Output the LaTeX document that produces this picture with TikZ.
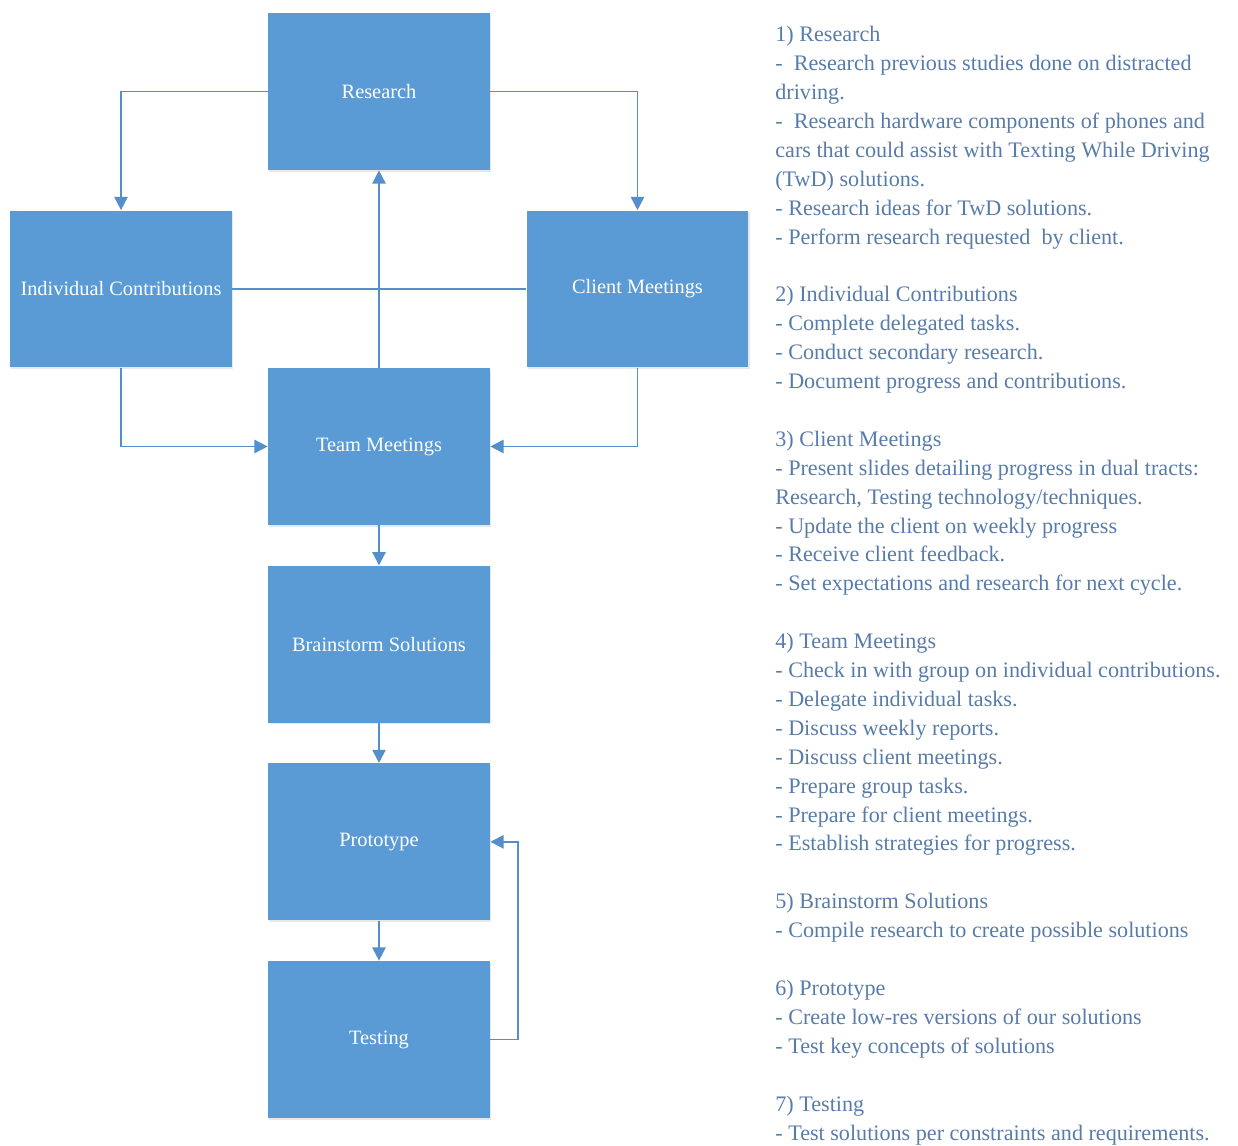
\documentclass[tikz,border=0pt]{standalone}
\usepackage{fontspec}
\setmainfont{Liberation Serif}
\usepackage{xcolor}
\usepackage{tikz}
\usetikzlibrary{arrows.meta,positioning,shadows}
\definecolor{stepblue}{RGB}{91,155,213}
\definecolor{linkblue}{RGB}{84,142,203}
\definecolor{noteblue}{RGB}{88,124,170}
\tikzset{
  phase/.style={rectangle, fill=stepblue, draw=none, minimum width=4.44cm, minimum height=3.14cm, align=center, text=white, font=\fontsize{11.6}{14}\selectfont, drop shadow={shadow xshift=0.7pt, shadow yshift=-0.9pt, opacity=0.18}},
  link/.style={draw=linkblue, line width=1pt},
  arrow/.style={link, -{Triangle[width=7.5pt,length=7.5pt]}},
  notes/.style={align=left, text=noteblue, inner sep=0pt, font=\fontsize{12.6}{16.45}\selectfont},
}

\begin{document}
\begin{tikzpicture}[x=0.02cm, y=-0.02cm]
  \useasboundingbox (0,0) rectangle (1238,1146);

  % top cycle
  \node[phase] (research) at (379,91.5) {Research};
  \node[phase] (indiv) at (121,289) {Individual Contributions};
  \node[phase] (client) at (637.5,289) {Client Meetings};
  \node[phase] (team) at (379,446.5) {Team Meetings};

  % main column
  \node[phase, below=0.8cm of team] (brainstorm) {Brainstorm Solutions};
  \node[phase, below=0.8cm of brainstorm] (proto) {Prototype};
  \node[phase, below=0.8cm of proto] (testing) {Testing};

  \draw[arrow] (research.west) -| (indiv.north);
  \draw[arrow] (research.east) -| (client.north);
  \draw[link] (indiv.east) -- (client.west);
  \draw[arrow] (team.north) -- (research.south);
  \draw[arrow] (indiv.south) |- (team.west);
  \draw[arrow] (client.south) |- (team.east);

  \draw[arrow] (team) -- (brainstorm);
  \draw[arrow] (brainstorm) -- (proto);
  \draw[arrow] (proto) -- (testing);
  \draw[arrow] (testing.east) -- ++(28,0) |- (proto.east);

  % description list
  \node[notes, anchor=base west] (desc) at (775,1140) {%
    1) Research\\
    -\ \ Research previous studies done on distracted\\
    driving.\\
    -\ \ Research hardware components of phones and\\
    cars that could assist with Texting While Driving\\
    (TwD) solutions.\\
    - Research ideas for TwD solutions.\\
    - Perform research requested\ \ by client.\\[16.45pt]
    2) Individual Contributions\\
    - Complete delegated tasks.\\
    - Conduct secondary research.\\
    - Document progress and contributions.\\[16.45pt]
    3) Client Meetings\\
    - Present slides detailing progress in dual tracts:\\
    Research, Testing technology/techniques.\\
    - Update the client on weekly progress\\
    - Receive client feedback.\\
    - Set expectations and research for next cycle.\\[16.45pt]
    4) Team Meetings\\
    - Check in with group on individual contributions.\\
    - Delegate individual tasks.\\
    - Discuss weekly reports.\\
    - Discuss client meetings.\\
    - Prepare group tasks.\\
    - Prepare for client meetings.\\
    - Establish strategies for progress.\\[16.45pt]
    5) Brainstorm Solutions\\
    - Compile research to create possible solutions\\[16.45pt]
    6) Prototype\\
    - Create low-res versions of our solutions\\
    - Test key concepts of solutions\\[16.45pt]
    7) Testing\\
    - Test solutions per constraints and requirements.};
\end{tikzpicture}
\end{document}
